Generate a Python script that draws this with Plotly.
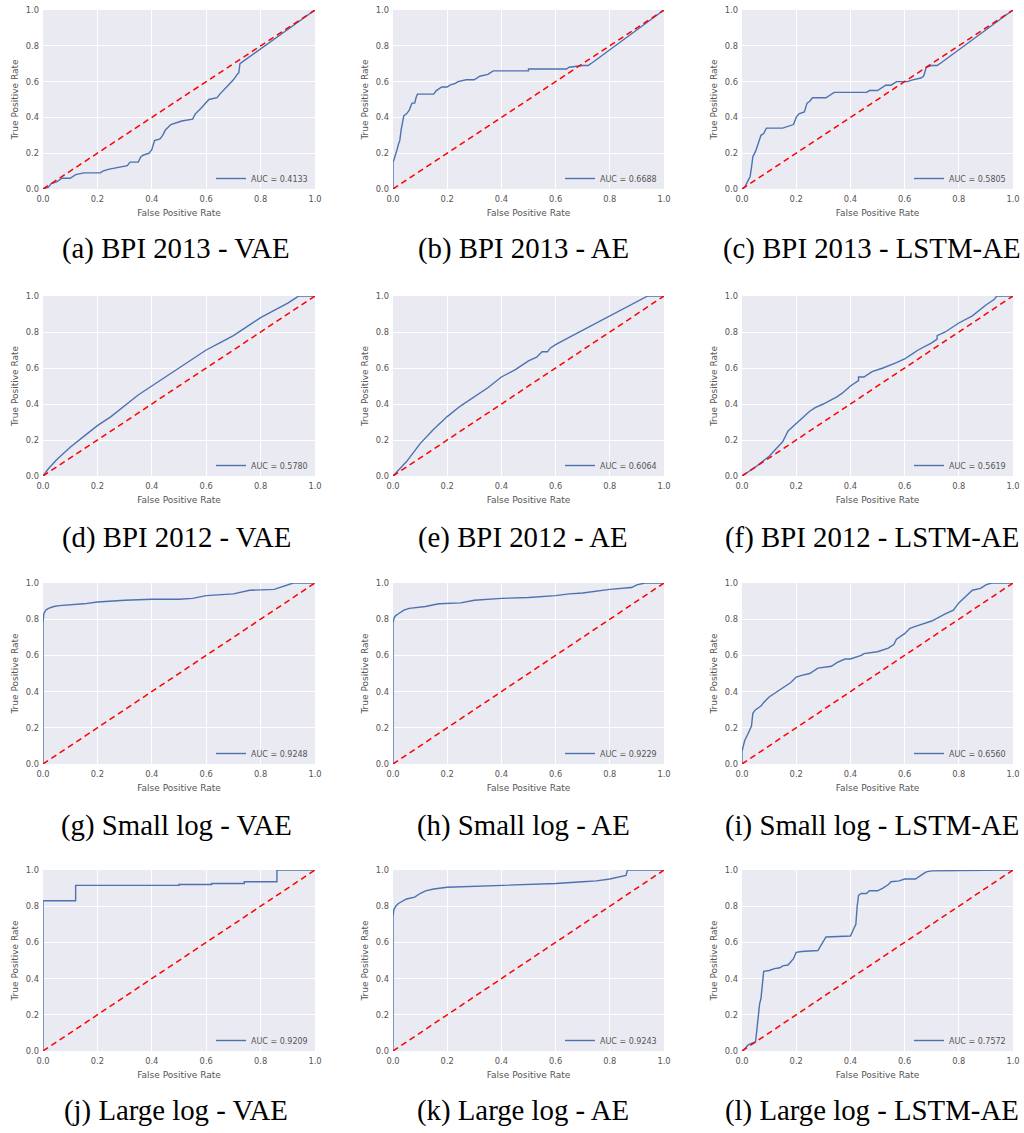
import plotly.graph_objects as go

# ---------------- data ----------------
captions = ["(a) BPI 2013 - VAE", "(b) BPI 2013 - AE", "(c) BPI 2013 - LSTM-AE",
            "(d) BPI 2012 - VAE", "(e) BPI 2012 - AE", "(f) BPI 2012 - LSTM-AE",
            "(g) Small log - VAE", "(h) Small log - AE", "(i) Small log - LSTM-AE",
            "(j) Large log - VAE", "(k) Large log - AE", "(l) Large log - LSTM-AE"]
auc_labels = ["AUC = 0.4133", "AUC = 0.6688", "AUC = 0.5805",
              "AUC = 0.5780", "AUC = 0.6064", "AUC = 0.5619",
              "AUC = 0.9248", "AUC = 0.9229", "AUC = 0.6560",
              "AUC = 0.9209", "AUC = 0.9243", "AUC = 0.7572"]
tick_vals = [0.0, 0.2, 0.4, 0.6, 0.8, 1.0]
tick_text = ["0.0", "0.2", "0.4", "0.6", "0.8", "1.0"]
chance_x = [0.0, 1.0]
chance_y = [0.0, 1.0]

fpr_a = [0, 0.02, 0.03, 0.05, 0.07, 0.10, 0.12, 0.15, 0.21, 0.22, 0.24, 0.27, 0.31, 0.32, 0.35, 0.36, 0.37, 0.39, 0.40, 0.41,
         0.43, 0.44, 0.45, 0.47, 0.49, 0.51, 0.55, 0.56, 0.58, 0.61, 0.64, 0.65, 0.675, 0.70, 0.714, 0.72, 0.724, 1.0]
tpr_a = [0, 0.01, 0.03, 0.04, 0.06, 0.06, 0.08, 0.09, 0.09, 0.10, 0.11, 0.12, 0.13, 0.15, 0.15, 0.18, 0.19, 0.20, 0.22, 0.27,
         0.28, 0.30, 0.33, 0.36, 0.37, 0.38, 0.39, 0.42, 0.45, 0.50, 0.51, 0.53, 0.57, 0.61, 0.64, 0.65, 0.70, 1.0]

fpr_b = [0, 0, 0.005, 0.01, 0.015, 0.02, 0.025, 0.03, 0.035, 0.04, 0.05, 0.06, 0.07, 0.08, 0.085, 0.09, 0.15, 0.16, 0.18,
         0.20, 0.21, 0.23, 0.24, 0.27, 0.30, 0.32, 0.35, 0.37, 0.50, 0.50, 0.64, 0.65, 0.70, 0.72, 0.73, 1.0]
tpr_b = [0, 0.15, 0.17, 0.19, 0.22, 0.25, 0.27, 0.33, 0.38, 0.41, 0.42, 0.44, 0.48, 0.48, 0.51, 0.53, 0.53, 0.55, 0.57,
         0.57, 0.58, 0.59, 0.60, 0.61, 0.61, 0.63, 0.64, 0.66, 0.66, 0.67, 0.67, 0.68, 0.69, 0.69, 0.70, 1.0]

fpr_c = [0, 0.01, 0.02, 0.03, 0.035, 0.04, 0.05, 0.06, 0.07, 0.08, 0.09, 0.15, 0.17, 0.19, 0.20, 0.21, 0.23, 0.24, 0.25,
         0.26, 0.31, 0.33, 0.34, 0.46, 0.47, 0.50, 0.52, 0.53, 0.55, 0.57, 0.61, 0.63, 0.66, 0.67, 0.68, 0.70, 0.72, 0.73, 1.0]
tpr_c = [0, 0.01, 0.04, 0.07, 0.12, 0.18, 0.21, 0.25, 0.30, 0.31, 0.34, 0.34, 0.35, 0.36, 0.40, 0.42, 0.43, 0.48, 0.49,
         0.51, 0.51, 0.53, 0.54, 0.54, 0.55, 0.55, 0.57, 0.58, 0.58, 0.60, 0.60, 0.61, 0.62, 0.63, 0.68, 0.69, 0.69, 0.70, 1.0]

fpr_d = [0, 0.02, 0.05, 0.10, 0.15, 0.20, 0.25, 0.30, 0.35, 0.40, 0.45, 0.50, 0.55, 0.60, 0.65, 0.70, 0.75, 0.80, 0.85,
         0.90, 0.93, 0.94, 1.0]
tpr_d = [0, 0.04, 0.09, 0.16, 0.22, 0.28, 0.33, 0.39, 0.45, 0.50, 0.55, 0.60, 0.65, 0.70, 0.74, 0.78, 0.83, 0.88, 0.92,
         0.96, 0.99, 1.0, 1.0]

fpr_e = [0, 0.02, 0.05, 0.08, 0.10, 0.15, 0.20, 0.25, 0.30, 0.35, 0.40, 0.45, 0.50, 0.53, 0.55, 0.57, 0.58, 0.60, 0.65,
         0.70, 0.75, 0.80, 0.85, 0.90, 0.94, 1.0]
tpr_e = [0, 0.03, 0.08, 0.14, 0.18, 0.26, 0.33, 0.39, 0.44, 0.49, 0.55, 0.59, 0.64, 0.66, 0.69, 0.69, 0.71, 0.73, 0.77,
         0.81, 0.85, 0.89, 0.93, 0.97, 1.0, 1.0]

fpr_f = [0, 0.05, 0.10, 0.13, 0.15, 0.17, 0.20, 0.23, 0.25, 0.27, 0.30, 0.35, 0.37, 0.40, 0.42, 0.43, 0.43, 0.45, 0.48,
         0.52, 0.57, 0.60, 0.63, 0.65, 0.70, 0.72, 0.72, 0.75, 0.80, 0.85, 0.90, 0.93, 0.94, 1.0]
tpr_f = [0, 0.05, 0.11, 0.16, 0.19, 0.25, 0.29, 0.33, 0.36, 0.38, 0.40, 0.44, 0.46, 0.50, 0.52, 0.53, 0.55, 0.55, 0.58,
         0.60, 0.63, 0.65, 0.68, 0.70, 0.74, 0.76, 0.78, 0.80, 0.85, 0.89, 0.95, 0.98, 1.0, 1.0]

fpr_g = [0, 0, 0.003, 0.01, 0.02, 0.04, 0.06, 0.12, 0.15, 0.20, 0.30, 0.40, 0.50, 0.55, 0.60, 0.70, 0.73, 0.76, 0.85,
         0.90, 0.92, 1.0]
tpr_g = [0, 0.78, 0.83, 0.85, 0.86, 0.87, 0.875, 0.88, 0.885, 0.895, 0.905, 0.91, 0.91, 0.915, 0.93, 0.94, 0.95, 0.96,
         0.965, 0.99, 1.0, 1.0]

fpr_h = [0, 0, 0.005, 0.01, 0.02, 0.04, 0.06, 0.10, 0.12, 0.15, 0.17, 0.25, 0.30, 0.40, 0.50, 0.60, 0.65, 0.70, 0.80,
         0.88, 0.90, 0.93, 1.0]
tpr_h = [0, 0.78, 0.81, 0.82, 0.83, 0.85, 0.86, 0.865, 0.87, 0.88, 0.885, 0.89, 0.905, 0.915, 0.92, 0.93, 0.94, 0.945,
         0.965, 0.975, 0.99, 1.0, 1.0]

fpr_i = [0, 0, 0.005, 0.01, 0.02, 0.03, 0.035, 0.04, 0.05, 0.07, 0.08, 0.10, 0.12, 0.15, 0.18, 0.20, 0.22, 0.25, 0.28,
         0.33, 0.35, 0.38, 0.40, 0.44, 0.45, 0.50, 0.54, 0.56, 0.57, 0.60, 0.62, 0.64, 0.68, 0.70, 0.75, 0.78, 0.80,
         0.82, 0.84, 0.85, 0.88, 0.90, 0.92, 1.0]
tpr_i = [0, 0.07, 0.10, 0.13, 0.16, 0.19, 0.21, 0.28, 0.30, 0.32, 0.34, 0.37, 0.39, 0.42, 0.45, 0.48, 0.49, 0.50, 0.53,
         0.54, 0.56, 0.58, 0.58, 0.60, 0.61, 0.62, 0.64, 0.66, 0.69, 0.72, 0.75, 0.76, 0.78, 0.79, 0.83, 0.85, 0.89,
         0.92, 0.95, 0.96, 0.97, 0.99, 1.0, 1.0]

fpr_j = [0, 0, 0.12, 0.12, 0.50, 0.50, 0.62, 0.62, 0.74, 0.74, 0.86, 0.86, 1.0]
tpr_j = [0, 0.83, 0.83, 0.915, 0.915, 0.92, 0.92, 0.925, 0.925, 0.935, 0.935, 1.0, 1.0]

fpr_k = [0, 0, 0.003, 0.01, 0.02, 0.04, 0.05, 0.08, 0.10, 0.12, 0.15, 0.20, 0.30, 0.40, 0.50, 0.60, 0.70, 0.75, 0.80,
         0.85, 0.86, 0.865, 1.0]
tpr_k = [0, 0.74, 0.78, 0.80, 0.815, 0.83, 0.84, 0.85, 0.87, 0.885, 0.895, 0.905, 0.91, 0.915, 0.92, 0.925, 0.935, 0.94,
         0.95, 0.965, 0.97, 1.0, 1.0]

fpr_l = [0, 0.01, 0.02, 0.03, 0.05, 0.055, 0.06, 0.065, 0.07, 0.075, 0.08, 0.10, 0.12, 0.14, 0.15, 0.17, 0.18, 0.19,
         0.20, 0.22, 0.28, 0.29, 0.30, 0.31, 0.40, 0.41, 0.42, 0.425, 0.43, 0.44, 0.46, 0.47, 0.50, 0.52, 0.54, 0.55,
         0.58, 0.60, 0.64, 0.66, 0.68, 0.70, 0.80, 1.0]
tpr_l = [0, 0.01, 0.03, 0.04, 0.05, 0.12, 0.18, 0.26, 0.29, 0.36, 0.44, 0.445, 0.455, 0.46, 0.47, 0.475, 0.49, 0.51,
         0.545, 0.55, 0.555, 0.58, 0.60, 0.63, 0.635, 0.67, 0.70, 0.80, 0.86, 0.87, 0.87, 0.885, 0.885, 0.90, 0.92,
         0.935, 0.94, 0.95, 0.95, 0.97, 0.99, 0.995, 0.998, 1.0]

curves = [(fpr_a, tpr_a), (fpr_b, tpr_b), (fpr_c, tpr_c),
          (fpr_d, tpr_d), (fpr_e, tpr_e), (fpr_f, tpr_f),
          (fpr_g, tpr_g), (fpr_h, tpr_h), (fpr_i, tpr_i),
          (fpr_j, tpr_j), (fpr_k, tpr_k), (fpr_l, tpr_l)]

# ---------------- layout geometry (page pixels) ----------------
W, H = 1024, 1133
col_left = [43, 393, 742]
col_right = [315, 664, 1013]
row_top = [10, 296, 583, 870]
row_bottom = [189, 476, 764, 1051]
caption_x = [176, 523, 872]
caption_y = [249, 537, 825, 1110]


def px(v):
    return v / W


def py(v):
    return 1 - v / H


BLUE = "#4C72B0"
RED = "#FF0000"
BG = "#EAEAF2"
TXT = "#555555"
SANS = "DejaVu Sans"

fig = go.Figure()
layout = dict(width=W, height=H, margin=dict(l=0, r=0, t=0, b=0, pad=0), autosize=False,
              template="none", paper_bgcolor="white", plot_bgcolor=BG, showlegend=True)
annotations = []

for i, (fx, ty) in enumerate(curves):
    r, c = divmod(i, 3)
    n = "" if i == 0 else str(i + 1)
    xa, ya = "x" + n, "y" + n
    lg = "legend" + n
    fig.add_trace(go.Scatter(x=fx, y=ty, mode="lines", name=auc_labels[i],
                             line=dict(color=BLUE, width=1.4), xaxis=xa, yaxis=ya,
                             legend=lg, showlegend=True, hoverinfo="skip"))
    fig.add_trace(go.Scatter(x=chance_x, y=chance_y, mode="lines",
                             line=dict(color=RED, width=1.5, dash="6px,4px"),
                             xaxis=xa, yaxis=ya, showlegend=False, hoverinfo="skip"))
    xd = [px(col_left[c]), px(col_right[c])]
    yd = [py(row_bottom[r]), py(row_top[r])]
    common = dict(range=[0, 1], tickmode="array", tickvals=tick_vals, ticktext=tick_text,
                  showgrid=True, gridcolor="white", gridwidth=1, zeroline=False,
                  showline=False, ticks="", tickfont=dict(family=SANS, size=8.3, color=TXT),
                  fixedrange=True, automargin=False, ticklabeloverflow="allow")
    layout["xaxis" + n] = dict(common, domain=xd, anchor=ya, ticklabelstandoff=4,
                               title=dict(text="False Positive Rate", standoff=6,
                                          font=dict(family=SANS, size=9, color=TXT)))
    layout["yaxis" + n] = dict(common, domain=yd, anchor=xa, ticklabelstandoff=3,
                               title=dict(text="True Positive Rate", standoff=5,
                                          font=dict(family=SANS, size=9, color=TXT)))
    layout[lg] = dict(x=px(col_right[c] - 2), y=py(row_bottom[r] + 4), xanchor="right", yanchor="bottom",
                      bgcolor="rgba(0,0,0,0)", borderwidth=0, itemwidth=30,
                      font=dict(family=SANS, size=8, color=TXT))
    annotations.append(dict(text=captions[i], x=px(caption_x[c]), y=py(caption_y[r]),
                            xref="paper", yref="paper", xanchor="center", yanchor="middle",
                            showarrow=False, font=dict(family="Liberation Serif", size=28.8, color="black")))

layout["annotations"] = annotations
fig.update_layout(**layout)
fig.write_html("out.html")
